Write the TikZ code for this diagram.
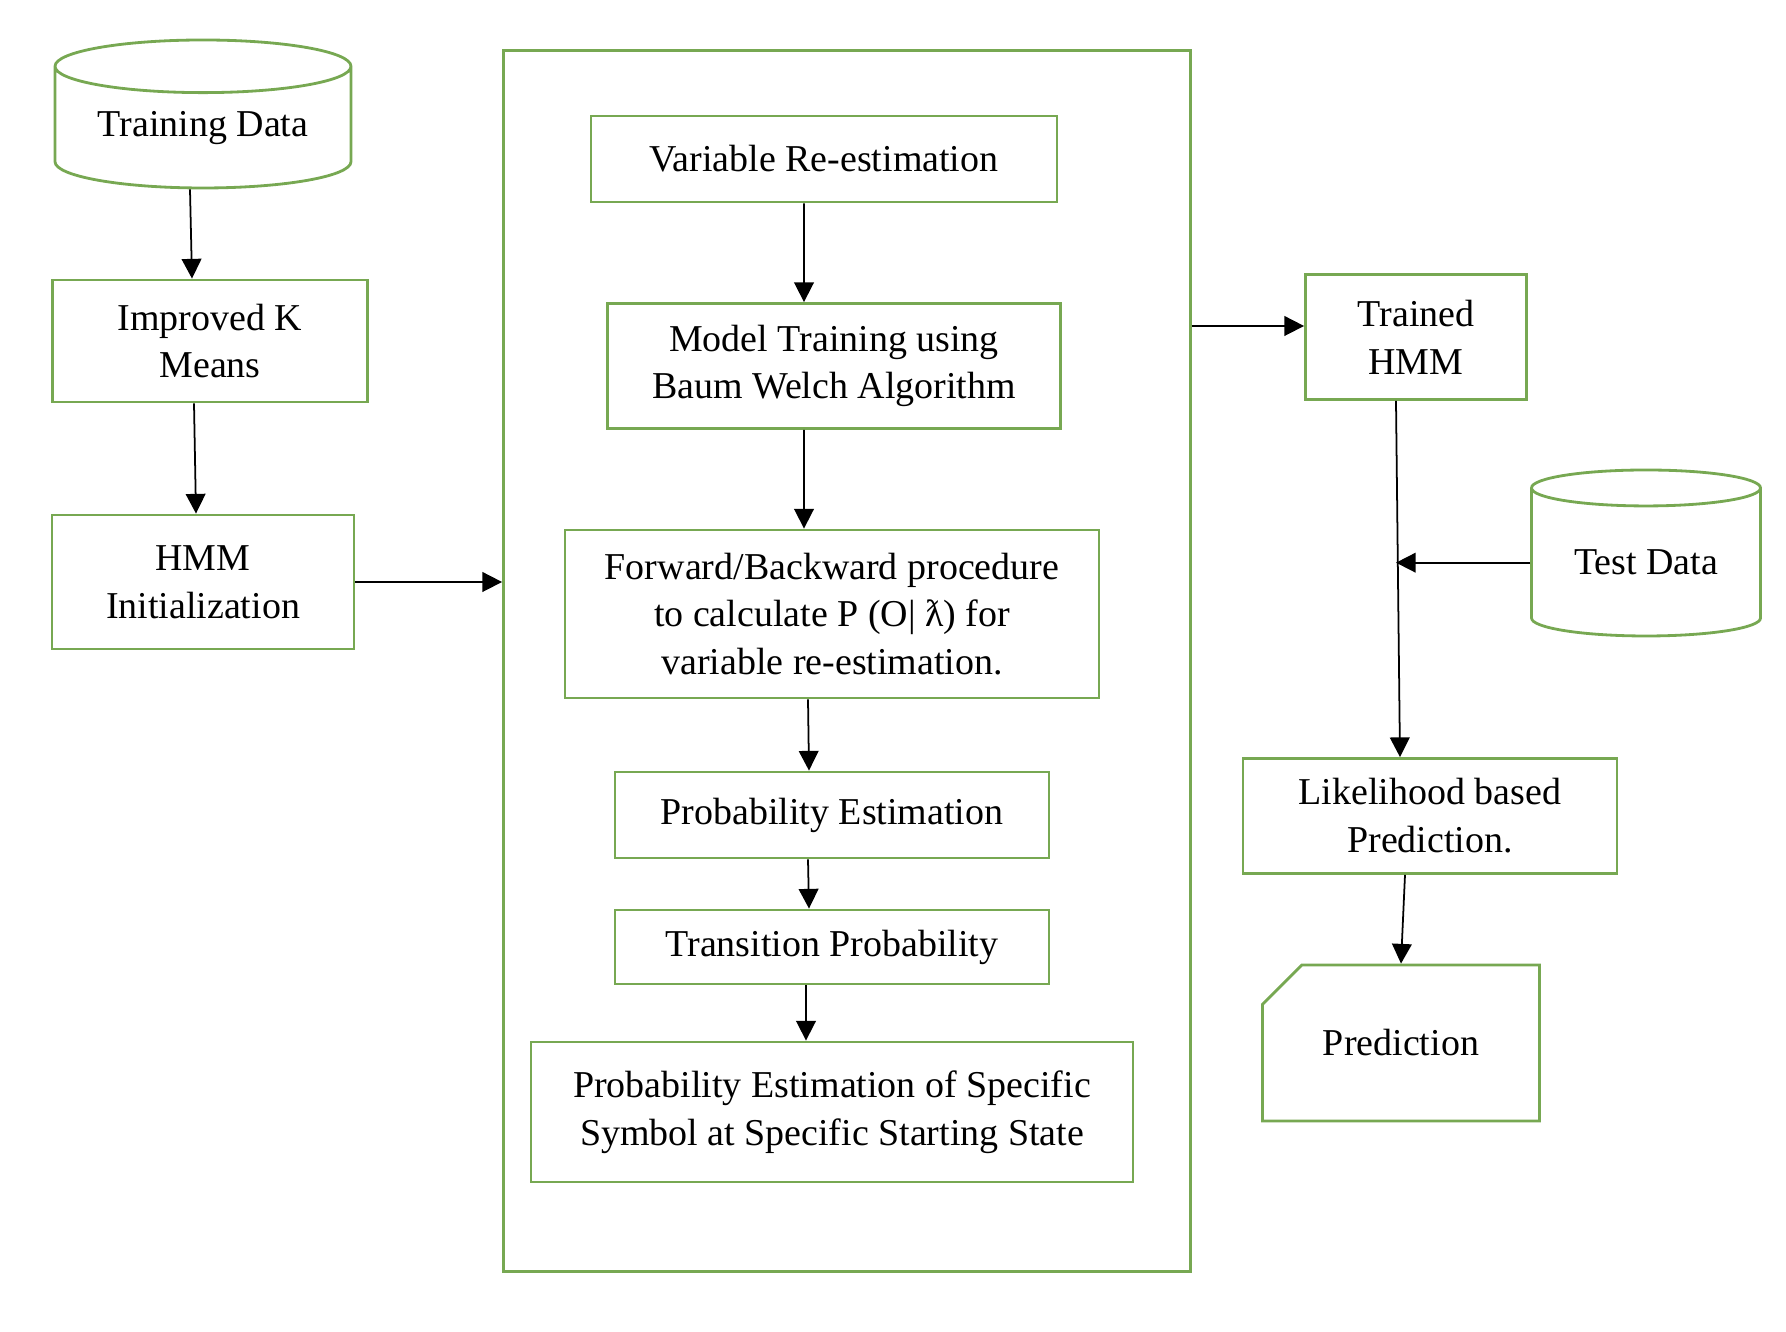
\documentclass[tikz,border=0pt]{standalone}
\usepackage{fontspec}
\setmainfont{Liberation Serif}
\usepackage{tikz}
\usetikzlibrary{shapes.geometric,shapes.misc}
\usetikzlibrary{arrows.meta}
\definecolor{hmmgreen}{RGB}{119,168,82}

\begin{document}
\begin{tikzpicture}[>={Triangle[length=5.6pt,width=5.6pt]},
	box/.style={draw=hmmgreen, line width=0.8pt, rectangle, align=center, inner sep=0pt,
		font=\fontsize{10.8}{13.6}\selectfont},
	db/.style={box, cylinder, shape border rotate=90, aspect=0.25, anchor=shape center},
	doc/.style={box, chamfered rectangle, chamfered rectangle corners=north west,
		chamfered rectangle xsep=0.56cm, chamfered rectangle ysep=0.26cm},
	flow/.style={->, line width=0.5pt}]
	\useasboundingbox (0,0) rectangle (17.86,-13.32);

	     % left column
	     \node[db, minimum width=2.96cm, minimum height=1.48cm] (td) at (2.03,-1.14) {Training Data};
	     \node[box, minimum width=3.15cm, minimum height=1.22cm] (km) at (2.10,-3.41) {Improved K\\Means};
	     \node[box, minimum width=3.02cm, minimum height=1.34cm] (hi) at (2.03,-5.82) {HMM\\Initialization};

	     % training loop
	     \node[box, minimum width=6.87cm, minimum height=12.21cm] (loop) at (8.47,-6.61) {};
	     \node[box, minimum width=4.66cm, minimum height=0.86cm] (vr) at (8.24,-1.59) {Variable Re-estimation};
	     \node[box, minimum width=4.53cm, minimum height=1.25cm] (bw) at (8.34,-3.66) {Model Training using\\Baum Welch Algorithm};
	     \node[box, minimum width=5.34cm, minimum height=1.68cm] (fb) at (8.32,-6.14) {Forward/Backward procedure\\to calculate P (O| ƛ) for\\variable re-estimation.};
	     \node[box, minimum width=4.34cm, minimum height=0.86cm] (pe) at (8.32,-8.15) {Probability Estimation};
	     \node[box, minimum width=4.34cm, minimum height=0.74cm] (tp) at (8.32,-9.47) {Transition Probability};
	     \node[box, minimum width=6.02cm, minimum height=1.40cm] (ps) at (8.32,-11.12) {Probability Estimation of Specific\\Symbol at Specific Starting State};

	     % right column
	     \node[box, minimum width=2.21cm, minimum height=1.25cm] (tr) at (14.16,-3.37) {Trained\\HMM};
	     \node[db, minimum width=2.29cm, minimum height=1.66cm] (te) at (16.46,-5.53) {Test Data};
	     \node[box, minimum width=3.74cm, minimum height=1.15cm] (lk) at (14.30,-8.16) {Likelihood based\\Prediction.};
	     \node[doc, minimum width=2.77cm, minimum height=1.56cm] (pr) at (14.01,-10.43) {Prediction};

	     \coordinate (tro) at ([xshift=-0.2cm]tr.south);
	     \coordinate (lki) at ([xshift=-0.3cm]lk.north);

	     \draw[flow] ([xshift=-0.13cm]td.south) -- ([xshift=-0.18cm]km.north);
	     \draw[flow] ([xshift=-0.16cm]km.south) -- ([xshift=-0.07cm]hi.north);
	     \draw[flow] (hi.east) -- (hi.east -| loop.west);
	     \draw[flow] ([xshift=-0.2cm]vr.south) -- ([xshift=-0.3cm]bw.north);
	     \draw[flow] ([xshift=-0.3cm]bw.south) -- ([xshift=-0.28cm]fb.north);
	     \draw[flow] ([xshift=-0.24cm]fb.south) -- ([xshift=-0.23cm]pe.north);
	     \draw[flow] ([xshift=-0.24cm]pe.south) -- ([xshift=-0.23cm]tp.north);
	     \draw[flow] ([xshift=-0.26cm]tp.south) -- ([xshift=-0.26cm]ps.north);
	     \draw[flow] ([yshift=0.11cm]loop.east |- tr.west) -- ([yshift=0.11cm]tr.west);
	     \draw[flow] (tro) -- (lki);
	     \draw[flow] (te.west) -- (te.west -| tro);
	     \draw[flow] ([xshift=-0.25cm]lk.south) -- (pr.north);
\end{tikzpicture}
\end{document}
